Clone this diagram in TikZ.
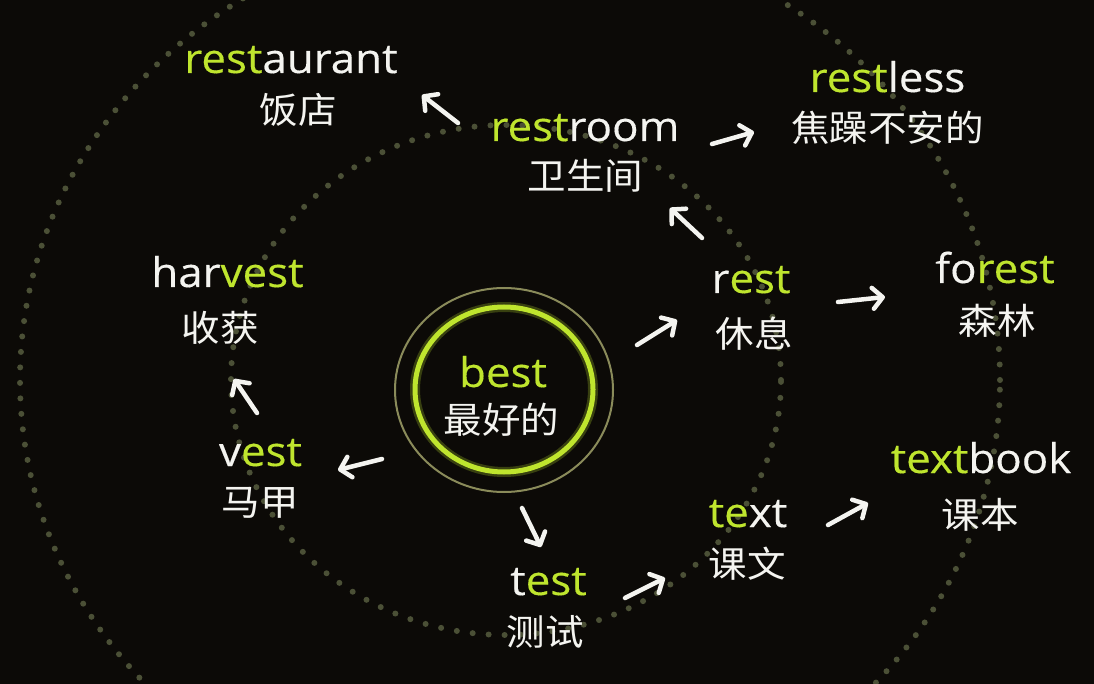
\documentclass[tikz,border=0pt]{standalone}
\usepackage{fontspec}
\setmainfont{Open Sans}[FakeStretch=1.07,FakeBold=0.3]
\newfontfamily\cjk{Noto Sans CJK SC}[FakeStretch=1.07]
\usetikzlibrary{arrows.meta}
\definecolor{bg}{HTML}{0C0A07}
\definecolor{lime}{HTML}{BFE52E}
\definecolor{dotc}{HTML}{4B5036}
\definecolor{ringc}{HTML}{8A8B5A}
\definecolor{txt}{HTML}{F4F4F0}
\newcommand\grn[1]{\textcolor{lime}{#1}}
\begin{document}
\begin{tikzpicture}[x=1pt,y=-1pt,
  en/.style={anchor=base, inner sep=0pt, text=txt, font=\fontsize{41}{41}\selectfont},
  cn/.style={inner sep=0pt, text=txt, font=\cjk\fontsize{36}{36}\selectfont},
  arr/.style={draw=txt, line width=4.5pt, line cap=round,
    -{Straight Barb[length=10pt,width=21pt,line width=4.5pt,round]}},
  dots/.style={draw=dotc, line width=6pt, line cap=round, dash pattern=on 0pt off 15.5pt}]
\useasboundingbox (0,0) rectangle (1094,684);
\clip (0,0) rectangle (1094,684);
\fill[bg] (0,0) rectangle (1094,684);
% dotted orbits
\draw[dots] (510,380) ellipse [x radius=490pt, y radius=455pt];
\draw[dots, dash pattern=on 0pt off 16pt] (506,380) ellipse [x radius=275pt, y radius=255pt];
% centre rings
\draw[ringc, line width=2pt] (504,390) ellipse [x radius=109pt, y radius=102pt];
\draw[lime, line width=10pt, opacity=0.25] (504,389.5) ellipse [x radius=89pt, y radius=82.5pt];
\draw[lime, line width=5pt] (504,389.5) ellipse [x radius=89pt, y radius=82.5pt];
% words
\node[en] (restaurant) at (291,73) {\grn{rest}aurant};
\node[cn] (restaurantcn) at (298,110) {饭店};
\node[en] (restroom) at (585,141) {\grn{rest}room};
\node[cn] (restroomcn) at (585.5,176) {卫生间};
\node[en] (restless) at (887.5,92) {\grn{rest}less};
\node[cn] (restlesscn) at (887.5,128) {焦躁不安的};
\node[en] (harvest) at (227.5,287) {har\grn{vest}};
\node[cn] (harvestcn) at (220,328) {收获};
\node[en] (rest) at (751,293) {r\grn{est}};
\node[cn] (restcn) at (754,334) {休息};
\node[en] (forest) at (995,283) {fo\grn{rest}};
\node[cn] (forestcn) at (997.5,321) {森林};
\node[en, text=lime] (best) at (503,387) {best};
\node[cn] (bestcn) at (501.5,420) {最好的};
\node[en] (vest) at (260.5,466) {v\grn{est}};
\node[cn] (vestcn) at (260,503) {马甲};
\node[en] (test) at (548.5,595) {t\grn{est}};
\node[cn] (testcn) at (545,632) {测试};
\node[en] (wtext) at (748,527) {\grn{te}xt};
\node[cn] (wtextcn) at (747.5,564) {课文};
\node[en] (textbook) at (981,473) {\grn{text}book};
\node[cn] (textbookcn) at (980,515) {课本};
% arrow end points
\coordinate (a1s) at (458,123); \coordinate (a1e) at (422,95);
\coordinate (a2s) at (712,144); \coordinate (a2e) at (754,132);
\coordinate (a3s) at (702,238); \coordinate (a3e) at (670,208);
\coordinate (a4s) at (637,345); \coordinate (a4e) at (677,320);
\coordinate (a5s) at (838,302); \coordinate (a5e) at (885,297);
\coordinate (a6s) at (382,459); \coordinate (a6e) at (338,470);
\coordinate (a7s) at (257,413); \coordinate (a7e) at (234,379);
\coordinate (a8s) at (522,508); \coordinate (a8e) at (541,547);
\coordinate (a9s) at (625,598); \coordinate (a9e) at (665,578);
\coordinate (a10s) at (828,525); \coordinate (a10e) at (868,503);
\draw[arr] (a1s) -- (a1e);
\draw[arr] (a2s) -- (a2e);
\draw[arr] (a3s) -- (a3e);
\draw[arr] (a4s) -- (a4e);
\draw[arr] (a5s) -- (a5e);
\draw[arr] (a6s) -- (a6e);
\draw[arr] (a7s) -- (a7e);
\draw[arr] (a8s) -- (a8e);
\draw[arr] (a9s) -- (a9e);
\draw[arr] (a10s) -- (a10e);
\end{tikzpicture}
\end{document}
